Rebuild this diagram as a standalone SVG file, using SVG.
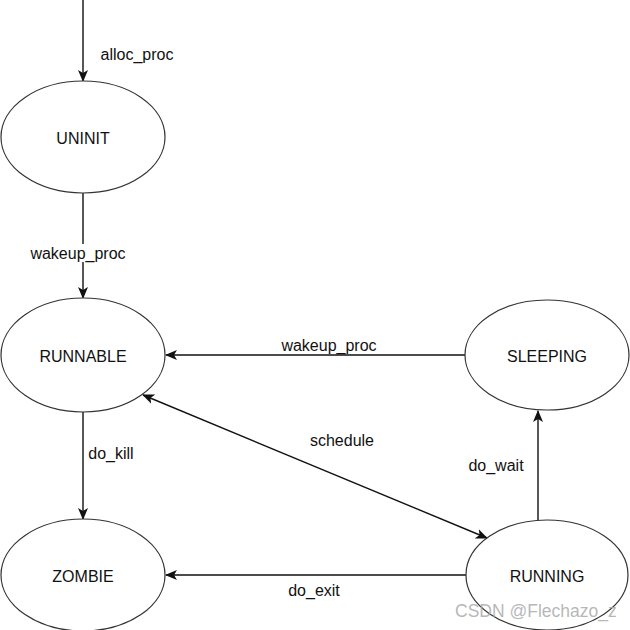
<svg xmlns="http://www.w3.org/2000/svg" width="630" height="630" viewBox="0 0 630 630">
<style>
.node{fill:#fff;stroke:#333;stroke-width:1.2}
.lbl{font-family:"Liberation Sans",Arial,sans-serif;font-size:16px;fill:#111;text-anchor:middle;dominant-baseline:central}
.edge{fill:none;stroke:#111;stroke-width:1.4}
.wm{font-family:"Liberation Sans",Arial,sans-serif;font-size:17.5px;fill:#aaa;fill-opacity:0.85}
</style>
<defs>
<marker id="arr" viewBox="0 0 12 10" refX="11" refY="5" markerWidth="12" markerHeight="10" markerUnits="userSpaceOnUse" orient="auto-start-reverse">
<path d="M0,0 L12,5 L0,10 L3,5 z" fill="#111"/>
</marker>
</defs>
<g id="connectors">
<line class="edge" x1="83" y1="0" x2="83" y2="81" marker-end="url(#arr)"/>
<text class="lbl" x="137" y="54">alloc_proc</text>
<line class="edge" x1="83" y1="193" x2="83" y2="298" marker-end="url(#arr)"/>
<rect x="28" y="244" width="100" height="18" fill="#fff"/>
<text class="lbl" x="78" y="253">wakeup_proc</text>
<line class="edge" x1="465" y1="355" x2="166" y2="355" marker-end="url(#arr)"/>
<text class="lbl" x="329" y="345">wakeup_proc</text>
<line class="edge" x1="143" y1="395" x2="487" y2="538" marker-start="url(#arr)" marker-end="url(#arr)"/>
<text class="lbl" x="342" y="440">schedule</text>
<line class="edge" x1="83" y1="412" x2="83" y2="519" marker-end="url(#arr)"/>
<text class="lbl" x="111" y="453">do_kill</text>
<line class="edge" x1="538" y1="520" x2="538" y2="411" marker-end="url(#arr)"/>
<text class="lbl" x="496" y="465">do_wait</text>
<line class="edge" x1="466" y1="575" x2="166" y2="575" marker-end="url(#arr)"/>
<text class="lbl" x="314" y="590">do_exit</text>
</g>
<g id="UNINIT"><ellipse class="node" cx="83" cy="137" rx="82" ry="56"/><text class="lbl" x="83" y="138">UNINIT</text></g>
<g id="RUNNABLE"><ellipse class="node" cx="83" cy="355" rx="82" ry="57"/><text class="lbl" x="83" y="356">RUNNABLE</text></g>
<g id="ZOMBIE"><ellipse class="node" cx="83" cy="575" rx="82" ry="56"/><text class="lbl" x="83" y="576">ZOMBIE</text></g>
<g id="SLEEPING"><ellipse class="node" cx="547" cy="355" rx="82" ry="55"/><text class="lbl" x="547" y="356">SLEEPING</text></g>
<g id="RUNNING"><ellipse class="node" cx="547" cy="575" rx="81" ry="55"/><text class="lbl" x="547" y="576">RUNNING</text></g>
<text class="wm" x="455" y="617">CSDN @Flechazo_z</text>
</svg>
